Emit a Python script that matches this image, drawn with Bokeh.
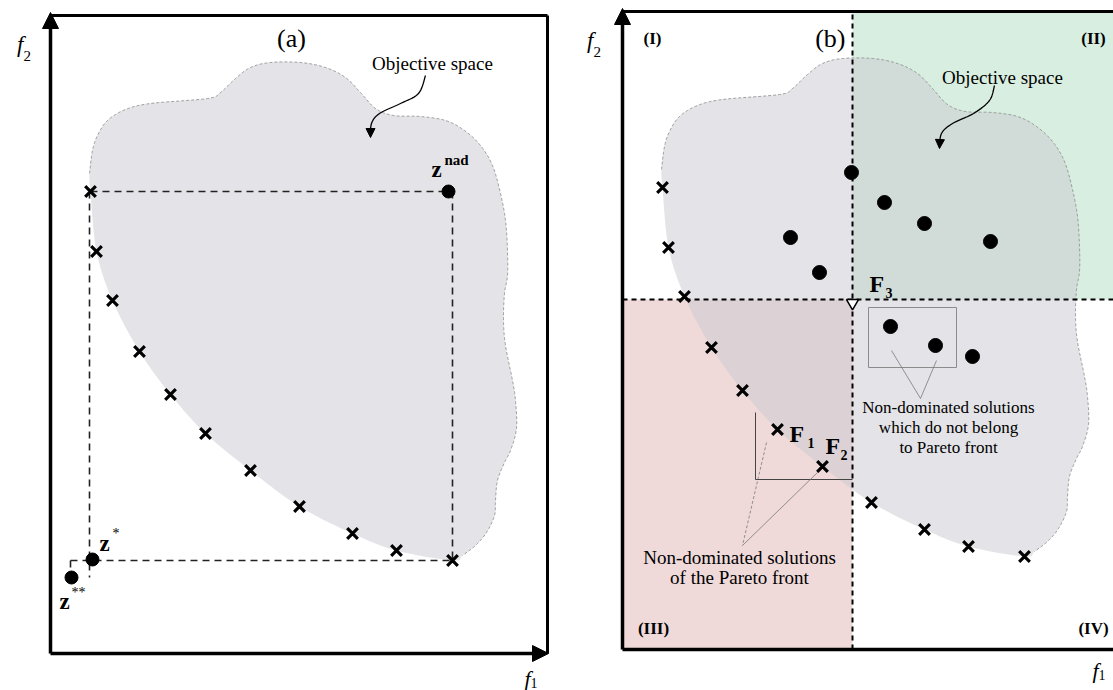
import numpy as np
from bokeh.plotting import figure
from bokeh.layouts import row
from bokeh.models import Range1d, Arrow, NormalHead
from bokeh.core.properties import value
from bokeh.embed import file_html
from bokeh.resources import INLINE

# ---------------- data (objective-space units) ----------------
# Pareto-front solutions (crosses), identical in both panels
front_f1 = [4.0, 4.6, 6.2, 8.9, 12.0, 15.5, 20.0, 24.9, 30.2, 34.6, 40.2]
front_f2 = [46.2, 40.2, 35.3, 30.2, 25.9, 22.0, 18.3, 14.7, 12.0, 10.3, 9.3]

# upper / right boundary of the objective space (clockwise from the top of the front)
space_f1 = [3.9, 4.2, 4.7, 5.7, 7.5, 10.0, 15.7, 17.0, 18.5, 20.0, 22.0, 25.0, 27.5, 29.5,
            31.0, 32.5, 34.3, 37.0, 39.5, 41.4, 43.0, 44.2, 45.0, 45.5, 45.7, 45.7, 45.4,
            45.3, 45.5, 46.2, 46.5, 46.6, 46.0, 45.4, 44.7, 44.5, 44.4, 43.6, 42.5, 41.2]
space_f2 = [48.0, 50.3, 51.8, 53.3, 54.4, 55.0, 55.5, 56.1, 57.5, 58.6, 59.1, 59.1, 58.6, 57.6,
            56.1, 54.5, 53.8, 53.7, 53.3, 52.3, 50.8, 48.8, 46.0, 43.3, 40.3, 37.8, 36.0,
            33.3, 30.8, 27.3, 25.3, 22.5, 20.3, 19.1, 17.3, 15.3, 13.8, 12.1, 10.8, 9.8]

# panel (a): special points
z_nad = [40.2, 46.2]
z_star = [4.2, 9.4]
z_star2 = [2.1, 7.6]

# panel (b): other solutions, reference point F3
dots_f1 = [22.9, 26.2, 30.2, 36.8, 16.8, 19.7, 26.8, 31.3, 35.0]
dots_f2 = [47.7, 44.7, 42.6, 40.8, 41.2, 37.7, 32.3, 30.4, 29.3]
F3 = [23.0, 35.0]

# curved pointer "Objective space" (a) and (b)
ptr_a_f1 = [37.5, 36.8, 35.0, 32.9, 32.1, 32.0]
ptr_a_f2 = [57.8, 56.0, 55.0, 54.0, 53.0, 51.6]
ptr_b_f1 = [37.2, 36.7, 35.1, 33.0, 31.9, 31.7]
ptr_b_f2 = [56.4, 54.9, 53.6, 52.6, 51.6, 50.1]

TOP = 63.8     # upper frame
RIGHT_A = 49.7  # right frame of panel (a)

SERIF = value("Liberation Serif")


def catmull(xs, ys, closed=False, n=12):
    P = np.column_stack([xs, ys]).astype(float)
    if closed:
        P = np.vstack([P[-1], P, P[0], P[1]])
    else:
        P = np.vstack([P[0], P, P[-1]])
    out = []
    for i in range(1, len(P) - 2):
        p0, p1, p2, p3 = P[i - 1], P[i], P[i + 1], P[i + 2]
        for t in np.linspace(0, 1, n, endpoint=False):
            t2, t3 = t * t, t * t * t
            out.append(0.5 * ((2 * p1) + (-p0 + p2) * t + (2 * p0 - 5 * p1 + 4 * p2 - p3) * t2
                              + (-p0 + 3 * p1 - 3 * p2 + p3) * t3))
    if not closed:
        out.append(P[-2])
    out = np.array(out)
    return out[:, 0], out[:, 1]


def base_fig(w, xr, yr):
    p = figure(width=w, height=690, x_range=Range1d(*xr), y_range=Range1d(*yr),
               output_backend="svg", toolbar_location=None, x_axis_type=None, y_axis_type=None,
               min_border=0, min_border_left=0, min_border_right=0, min_border_top=0,
               min_border_bottom=0)
    p.outline_line_color = None
    p.grid.visible = False
    p.background_fill_color = "white"
    p.border_fill_color = "white"
    return p


def draw_space(p):
    poly_x = list(space_f1) + front_f1[::-1]
    poly_y = list(space_f2) + front_f2[::-1]
    bx, by = catmull(poly_x, poly_y, closed=True)
    p.patch(bx, by, fill_color="#c9c9d1", fill_alpha=0.5, line_color=None)
    ox, oy = catmull(space_f1, space_f2)
    p.line(ox, oy, line_color="#8a8a8a", line_width=0.8, line_dash="3 2")


def draw_pointer(p, xs, ys):
    cx, cy = catmull(xs, ys, n=10)
    p.line(cx[:-3], cy[:-3], line_color="black", line_width=1.3)
    p.add_layout(Arrow(end=NormalHead(size=9, fill_color="black", line_color="black"),
                       x_start=cx[-4], y_start=cy[-4], x_end=cx[-1], y_end=cy[-1],
                       line_width=1.3, line_color="black"))


def draw_axes(p, right, show_right):
    p.line([0, right], [TOP, TOP], line_color="black", line_width=3)
    if show_right:
        p.line([right, right], [0, TOP], line_color="black", line_width=3)
    p.add_layout(Arrow(end=NormalHead(size=16, fill_color="black", line_color="black"),
                       x_start=0, y_start=0, x_end=0, y_end=64.1, line_width=3.5,
                       line_color="black"))
    p.add_layout(Arrow(end=NormalHead(size=16, fill_color="black", line_color="black"),
                       x_start=0, y_start=0, x_end=right + 0.1, y_end=0, line_width=3.5,
                       line_color="black"))


def txt(p, x, y, s, size, style="normal", align="center", baseline="middle"):
    p.text(x=[x], y=[y], text=[s], text_font=SERIF, text_font_size=size,
           text_font_style=style, text_align=align, text_baseline=baseline, text_color="black")


# ====================== panel (a) ======================
pa = base_fig(580, (-5.0, 53.0), (-3.7, 65.3))
draw_space(pa)

dash = dict(line_color="#222222", line_width=1.6, line_dash="7 5")
pa.line([min(front_f1), z_nad[0]], [z_nad[1], z_nad[1]], **dash)
pa.line([z_nad[0], z_nad[0]], [z_nad[1], min(front_f2)], **dash)
pa.line([min(front_f1) - 0.1, min(front_f1) - 0.1], [z_nad[1], z_star2[1]], **dash)
pa.line([z_star2[0] - 0.1, z_nad[0]], [min(front_f2), min(front_f2)], **dash)
pa.line([z_star2[0] - 0.1, z_star2[0] - 0.1], [min(front_f2), z_star2[1] + 0.8], **dash)

pa.scatter(front_f1, front_f2, marker="x", size=15, line_width=3.2, line_color="black")
pa.scatter([z_nad[0] - 0.4, z_star[0], z_star2[0]], [z_nad[1], z_star[1], z_star2[1]],
           marker="circle", size=13, fill_color="black", line_color="black")

draw_pointer(pa, ptr_a_f1, ptr_a_f2)
txt(pa, 38.2, 59.0, "Objective space", "19px")
txt(pa, 24.1, 61.5, "(a)", "26px")

txt(pa, 38.6, 48.4, "z", "23px", "bold")
txt(pa, 39.4, 49.4, "nad", "15px", "bold", align="left")
txt(pa, 5.4, 11.0, "z", "23px", "bold")
txt(pa, 6.2, 12.0, "*", "14px", align="left")
txt(pa, 1.4, 5.2, "z", "23px", "bold")
txt(pa, 2.1, 6.1, "**", "14px", align="left")

txt(pa, -2.7, 60.9, "f", "23px", "italic", align="right")
txt(pa, -2.7, 60.3, "2", "15px", align="left", baseline="top")
txt(pa, 48.0, -2.5, "f", "22px", "italic", align="right")
txt(pa, 48.0, -2.9, "1", "14px", align="left", baseline="middle")
draw_axes(pa, RIGHT_A, True)

# ====================== panel (b) ======================
pb = base_fig(533, (-4.2, 49.1), (-4.1, 64.9))
pb.quad(left=[F3[0]], right=[60], bottom=[F3[1]], top=[TOP], fill_color="#d8eee0",
        line_color=None)
pb.quad(left=[0], right=[F3[0]], bottom=[0], top=[F3[1]], fill_color="#efd9d9",
        line_color=None)
draw_space(pb)

bdash = dict(line_color="black", line_width=2, line_dash="5 4")
pb.line([F3[0], F3[0]], [0, TOP], **bdash)
pb.line([0, 60], [F3[1], F3[1]], **bdash)

# callout of the non-dominated solutions that are not on the front
pb.quad(left=[24.6], right=[33.4], bottom=[28.2], top=[34.2], fill_color=None,
        line_color="#8c8c8c", line_width=1)
pb.line([26.9, 29.8, 31.4], [29.9, 25.1, 28.9], line_color="#7a7a7a", line_width=0.8)
txt(pb, 32.6, 24.2, "Non-dominated solutions", "17px")
txt(pb, 32.6, 22.2, "which do not belong", "17px")
txt(pb, 32.6, 20.2, "to Pareto front", "17px")

# callout of front solutions
pb.line([13.3, 13.3, F3[0]], [23.7, 17.0, 17.0], line_color="#444444", line_width=1)
pb.line([14.4, 12.0], [20.7, 10.4], line_color="#7a7a7a", line_width=0.8, line_dash="3 2")
pb.line([19.5, 12.0], [17.7, 10.4], line_color="#7a7a7a", line_width=0.8)
txt(pb, 11.7, 9.2, "Non-dominated solutions", "19px")
txt(pb, 11.7, 7.2, "of the Pareto front", "19px")

pb.scatter(front_f1, front_f2, marker="x", size=15, line_width=3.2, line_color="black")
pb.scatter(dots_f1, dots_f2, marker="circle", size=14, fill_color="black", line_color="black")
pb.scatter([F3[0]], [F3[1] - 0.35], marker="inverted_triangle", size=12, fill_color="white",
           line_color="black", line_width=1.5)

txt(pb, 16.7, 21.6, "F", "24px", "bold", align="left")
txt(pb, 18.5, 20.7, "1", "14px", "bold", align="left")
txt(pb, 20.3, 20.4, "F", "24px", "bold", align="left")
txt(pb, 21.8, 19.5, "2", "14px", "bold", align="left")
txt(pb, 24.7, 36.6, "F", "24px", "bold", align="left")
txt(pb, 26.3, 35.7, "3", "14px", "bold", align="left")

draw_pointer(pb, ptr_b_f1, ptr_b_f2)
txt(pb, 38.0, 57.2, "Objective space", "19px")
txt(pb, 22.3, 61.1, "(b)", "26px", align="right")
txt(pb, 3.0, 61.1, "(I)", "17px", "bold")
txt(pb, 47.1, 61.1, "(II)", "17px", "bold")
txt(pb, 3.1, 2.1, "(III)", "17px", "bold")
txt(pb, 47.1, 2.1, "(IV)", "17px", "bold")

txt(pb, -2.9, 60.9, "f", "23px", "italic", align="right")
txt(pb, -2.9, 60.3, "2", "15px", align="left", baseline="top")
txt(pb, 47.6, -2.1, "f", "22px", "italic", align="right")
txt(pb, 47.6, -2.5, "1", "14px", align="left", baseline="middle")
draw_axes(pb, 60, False)

layout = row(pa, pb)
open("out.html", "w").write(file_html(layout, INLINE))
